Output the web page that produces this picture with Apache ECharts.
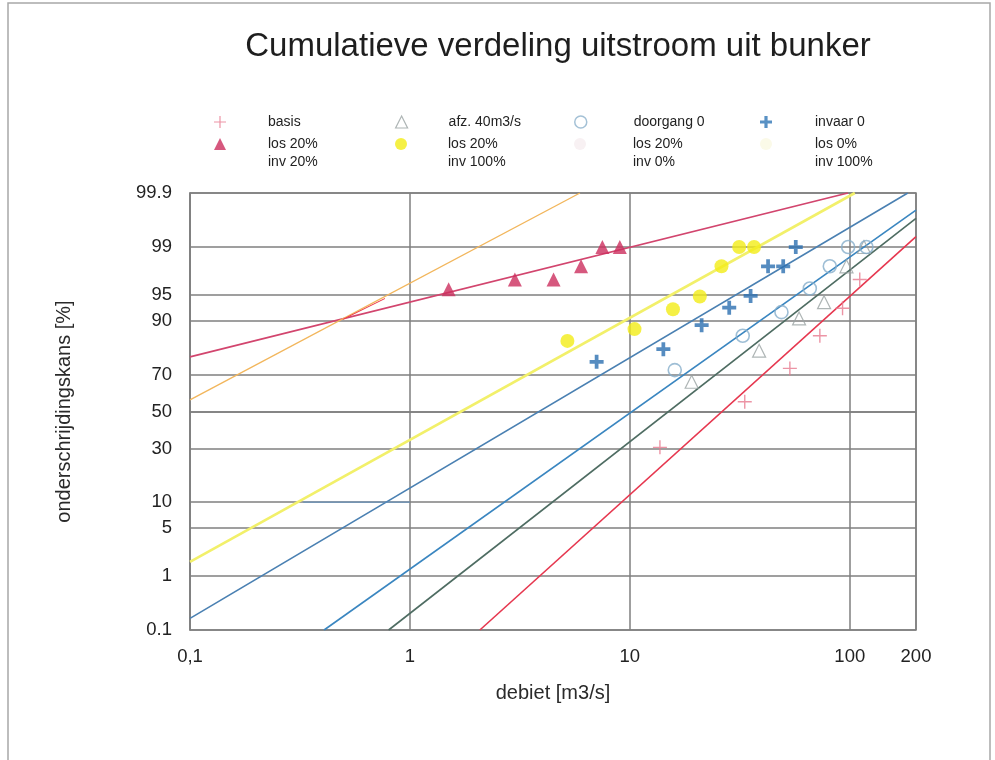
<!DOCTYPE html>
<html>
<head>
<meta charset="utf-8">
<script src="https://cdn.jsdelivr.net/npm/echarts@6/dist/echarts.min.js"></script>
<style>
  html, body { margin: 0; padding: 0; background: #fff; }
  #chart { width: 995px; height: 760px; }
</style>
</head>
<body>
<div id="chart"></div>
<script>
// Measured outflow: discharge Q (m3/s) against non-exceedance probability P (%)
const basisQ = [13.7, 33.3, 53.4, 73.1, 92.7, 111];
const basisP = [30.6, 55.5, 72.9, 85.8, 92.8, 96.9];

const afzQ = [19.1, 38.7, 58.8, 76.4, 96.6, 116];
const afzP = [66.3, 80.5, 90.6, 93.9, 98.0, 99.0];

const doorgangQ = [16.0, 32.6, 48.9, 65.8, 81.1, 98.3, 119];
const doorgangP = [72.1, 85.8, 92.0, 95.9, 98.0, 99.0, 99.0];

const invaarQ = [7.06, 14.2, 21.2, 28.3, 35.4, 42.5, 49.8, 56.8];
const invaarP = [75.9, 81.1, 88.9, 92.9, 94.9, 98.0, 98.0, 99.0];

const los20inv20Q = [1.5, 3.0, 4.5, 6.0, 7.5, 9.0];
const los20inv20P = [95.8, 96.9, 96.9, 98.0, 99.0, 99.0];

const los20inv100Q = [5.2, 10.5, 15.7, 20.8, 26.1, 31.4, 36.7];
const los20inv100P = [84.1, 87.8, 92.6, 94.8, 98.0, 99.0, 99.0];

// Fitted lognormal lines, given by their two end points (Q, P%)
const fitBasisQ = [2.08, 200];        const fitBasisP = [0.1, 99.33];
const fitAfzQ = [0.80, 200];          const fitAfzP = [0.1, 99.685];
const fitDoorgangQ = [0.407, 200];    const fitDoorgangP = [0.1, 99.78];
const fitInvaarQ = [0.1, 183.5];      const fitInvaarP = [0.172, 99.9];
const fitLos20inv20Q = [0.1, 98];     const fitLos20inv20P = [78.0, 99.9];
const fitLos20inv100Q = [0.1, 105.4]; const fitLos20inv100P = [1.67, 99.9];
const fitLos0inv100Q = [0.1, 5.93];   const fitLos0inv100P = [56.5, 99.9];
const fitLos20inv0Q = [0.497, 0.77];  const fitLos20inv0P = [90.4, 94.5];
const ref10Q = [0.327, 1.0];          const ref10P = [10, 10];

// Axis ticks
const xTickLabels = { 0.1: '0,1', 1: '1', 10: '10', 100: '100', 200: '200' };
const yTicks = [0.1, 1, 5, 10, 30, 50, 70, 90, 95, 99, 99.9];
const yTickLabels = ['0.1', '1', '5', '10', '30', '50', '70', '90', '95', '99', '99.9'];

// Normal probability scale: percent -> standard normal quantile (Acklam)
function probit(pct) {
  const p = pct / 100;
  const a = [-3.969683028665376e+01, 2.209460984245205e+02, -2.759285104469687e+02,
             1.383577518672690e+02, -3.066479806614716e+01, 2.506628277459239e+00];
  const b = [-5.447609879822406e+01, 1.615858368580409e+02, -1.556989798598866e+02,
             6.680131188771972e+01, -1.328068155288572e+01];
  const c = [-7.784894002430293e-03, -3.223964580411365e-01, -2.400758277161838e+00,
             -2.549671348283430e+00, 4.374664141464968e+00, 2.938163982698783e+00];
  const d = [7.784695709041462e-03, 3.224671290700398e-01, 2.445134137142996e+00,
             3.754408661907416e+00];
  const plow = 0.02425, phigh = 1 - plow;
  let q, r;
  if (p < plow) {
    q = Math.sqrt(-2 * Math.log(p));
    return (((((c[0]*q+c[1])*q+c[2])*q+c[3])*q+c[4])*q+c[5]) /
           ((((d[0]*q+d[1])*q+d[2])*q+d[3])*q+1);
  }
  if (p <= phigh) {
    q = p - 0.5; r = q * q;
    return (((((a[0]*r+a[1])*r+a[2])*r+a[3])*r+a[4])*r+a[5])*q /
           (((((b[0]*r+b[1])*r+b[2])*r+b[3])*r+b[4])*r+1);
  }
  q = Math.sqrt(-2 * Math.log(1 - p));
  return -(((((c[0]*q+c[1])*q+c[2])*q+c[3])*q+c[4])*q+c[5]) /
          ((((d[0]*q+d[1])*q+d[2])*q+d[3])*q+1);
}

function pairs(qs, ps) { return qs.map((q, i) => [q, probit(ps[i])]); }

const yTickZ = yTicks.map(probit);
const yMin = probit(0.1), yMax = probit(99.9);

const PLUS_THIN = 'path://M5.4,0h1.2v5.4h5.4v1.2h-5.4v5.4h-1.2v-5.4h-5.4v-1.2h5.4z';
const PLUS_BOLD = 'path://M4.4,0h3.2v4.4h4.4v3.2h-4.4v4.4h-3.2v-4.4h-4.4v-3.2h4.4z';

const FONT = 'Liberation Sans, Arial, sans-serif';
const GRID_GREY = '#7f7f7f';

// Legend layout: four columns, two rows
const colIcon = [220, 401, 580, 766];
const colText = [268, 448, 633, 815];
function legendItem(name, col, row, icon, itemStyle) {
  const pad = colText[col] - colIcon[col] - 11;
  return {
    data: [{ name: name, icon: icon, itemStyle: itemStyle }],
    left: colIcon[col] - 6,
    top: row === 0 ? 113 : 117,
    padding: 0,
    itemWidth: 12,
    itemHeight: 12,
    selectedMode: false,
    // two-line names: an empty first line keeps the first text line level with the icon
    formatter: row === 0 ? '{name}' : n => '\n' + n,
    textStyle: {
      fontFamily: FONT, fontSize: 14, color: '#222', lineHeight: 18,
      padding: [0, 0, 0, pad]
    }
  };
}

const legends = [
  legendItem('basis', 0, 0, PLUS_THIN, { color: '#e7798f' }),
  legendItem('afz. 40m3/s', 1, 0, 'triangle', { color: 'rgba(255,255,255,0)', borderColor: '#9aa2a2', borderWidth: 1.2 }),
  legendItem('doorgang 0', 2, 0, 'circle', { color: 'rgba(255,255,255,0)', borderColor: '#8db2cc', borderWidth: 1.5 }),
  legendItem('invaar 0', 3, 0, PLUS_BOLD, { color: '#2f76b5' }),
  legendItem('los 20%\ninv 20%', 0, 1, 'triangle', { color: '#cc2e5e' }),
  legendItem('los 20%\ninv 100%', 1, 1, 'circle', { color: '#f3ec17' }),
  legendItem('los 20%\ninv 0%', 2, 1, 'circle', { color: '#f8f1f3' }),
  legendItem('los 0%\ninv 100%', 3, 1, 'circle', { color: '#fbfae8' })
];

function fitLine(name, qs, ps, color, width) {
  return {
    name: name, type: 'line', data: pairs(qs, ps), showSymbol: false, symbol: 'none',
    lineStyle: { color: color, width: width || 1.5 }, silent: true, z: 2, animation: false
  };
}
function scatter(name, qs, ps, symbol, size, itemStyle) {
  return {
    name: name, type: 'scatter', data: pairs(qs, ps), symbol: symbol, symbolSize: size,
    itemStyle: itemStyle, z: 3, animation: false
  };
}

const series = [
  fitLine('fit basis', fitBasisQ, fitBasisP, '#e6374f', 1.6),
  fitLine('fit afz', fitAfzQ, fitAfzP, '#4e6c62', 1.6),
  fitLine('fit doorgang', fitDoorgangQ, fitDoorgangP, '#3a86c0', 1.6),
  fitLine('fit invaar', fitInvaarQ, fitInvaarP, '#4a80b2', 1.6),
  fitLine('fit los20inv20', fitLos20inv20Q, fitLos20inv20P, '#d2456e', 1.8),
  fitLine('fit los20inv100', fitLos20inv100Q, fitLos20inv100P, '#f2f06a', 2.6),
  fitLine('los 0%\ninv 100%', fitLos0inv100Q, fitLos0inv100P, '#f2b65c', 1.4),
  fitLine('los 20%\ninv 0%', fitLos20inv0Q, fitLos20inv0P, '#ee3a4a', 1.0),
  fitLine('ref 10', ref10Q, ref10P, '#5a8fc0', 1.0),
  scatter('basis', basisQ, basisP, PLUS_THIN, 14, { color: '#e7798f' }),
  scatter('afz. 40m3/s', afzQ, afzP, 'triangle', 13,
    { color: 'rgba(255,255,255,0)', borderColor: '#9aa2a2', borderWidth: 1.2 }),
  scatter('doorgang 0', doorgangQ, doorgangP, 'circle', 13,
    { color: 'rgba(255,255,255,0)', borderColor: '#86aecb', borderWidth: 1.6 }),
  scatter('invaar 0', invaarQ, invaarP, PLUS_BOLD, 14, { color: '#2c6fb0' }),
  scatter('los 20%\ninv 20%', los20inv20Q, los20inv20P, 'triangle', 14, { color: '#cc2e5e' }),
  scatter('los 20%\ninv 100%', los20inv100Q, los20inv100P, 'circle', 14, { color: '#f3ec17' })
];

const chart = echarts.init(document.getElementById('chart'), null, { renderer: 'canvas' });
chart.setOption({
  backgroundColor: '#ffffff',
  animation: false,
  title: {
    text: 'Cumulatieve verdeling uitstroom uit bunker',
    left: 553, top: 25, textAlign: 'center',
    textStyle: { fontFamily: FONT, fontSize: 33, fontWeight: 'normal', color: '#1e1e1e' }
  },
  legend: legends,
  graphic: [{
    type: 'polyline', silent: true,
    shape: { points: [[8, 770], [8, 3], [990, 3], [990, 770]] },
    style: { stroke: '#a8a8a8', lineWidth: 1.5, fill: null }
  }],
  grid: { left: 190, right: 79, top: 193, bottom: 130, show: true, borderColor: GRID_GREY, borderWidth: 1.5 },
  xAxis: {
    type: 'log', logBase: 10, min: 0.1, max: 200,
    name: 'debiet [m3/s]', nameLocation: 'middle', nameGap: 53,
    nameTextStyle: { fontFamily: FONT, fontSize: 20, color: '#2a2a2a' },
    axisLine: { show: true, lineStyle: { color: GRID_GREY, width: 1.5 } },
    axisTick: { show: false },
    axisLabel: {
      fontFamily: FONT, fontSize: 18.5, color: '#222', margin: 17,
      formatter: v => {
        const k = Object.keys(xTickLabels).find(t => Math.abs(Math.log10(+t) - Math.log10(v)) < 1e-6);
        return k !== undefined ? xTickLabels[k] : '';
      }
    },
    splitLine: { show: true, lineStyle: { color: GRID_GREY, width: 1.5 } }
  },
  yAxis: {
    type: 'value', min: yMin, max: yMax,
    name: 'onderschrijdingskans [%]', nameLocation: 'middle', nameGap: 116, nameRotate: 90,
    nameTextStyle: { fontFamily: FONT, fontSize: 20, color: '#2a2a2a' },
    axisLine: { show: true, lineStyle: { color: GRID_GREY, width: 1.5 } },
    axisTick: { show: false, customValues: yTickZ },
    axisLabel: {
      customValues: yTickZ,
      fontFamily: FONT, fontSize: 18.5, color: '#222', margin: 18,
      formatter: v => {
        const i = yTickZ.findIndex(z => Math.abs(z - v) < 1e-6);
        return i >= 0 ? yTickLabels[i] : '';
      }
    },
    splitLine: { show: true, lineStyle: { color: GRID_GREY, width: 1.5 } }
  },
  series: series
});
</script>
</body>
</html>
